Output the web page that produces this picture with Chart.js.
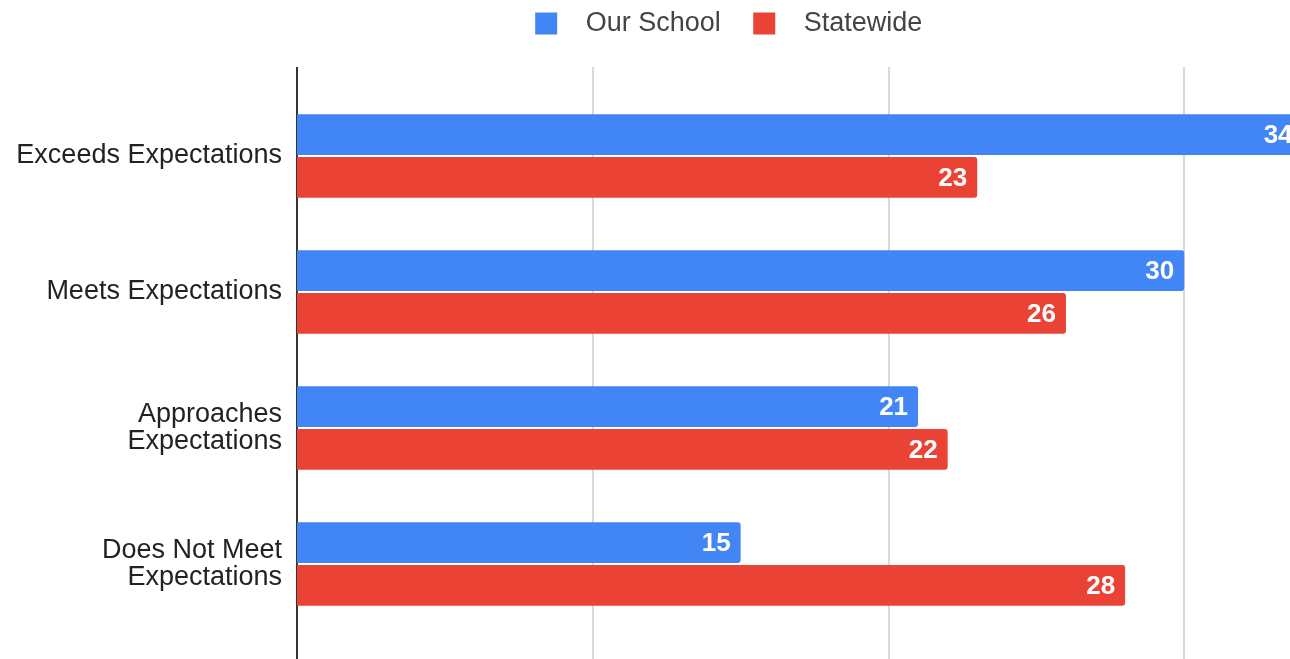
<!DOCTYPE html>
<html>
<head>
<meta charset="utf-8">
<script src="https://cdn.jsdelivr.net/npm/chart.js@4"></script>
<style>
  html, body { margin: 0; padding: 0; background: #fff; overflow: hidden; }
  #wrap { width: 1290px; height: 659px; overflow: hidden; }
  #grafico { display: block; }
</style>
</head>
<body>
<div id="wrap"><canvas id="grafico" width="1480" height="659"></canvas></div>
<script>
// Datos del gráfico
const categorias = ['Exceeds Expectations', 'Meets Expectations', ['Approaches', 'Expectations'], ['Does Not Meet', 'Expectations']];
const series = ['Our School', 'Statewide'];
const nuestraEscuela = [34, 30, 21, 15];
const estatal = [23, 26, 22, 28];
const ejeX = [0, 10, 20, 30, 40];

const fuente = "'Liberation Sans', Arial, sans-serif";

// Espacio extra bajo la leyenda
const espacioLeyenda = {
    id: 'espacioLeyenda',
    beforeInit(chart) {
        const fitOriginal = chart.legend.fit;
        chart.legend.fit = function () {
            fitOriginal.bind(chart.legend)();
            this.height += 41;
        };
    }
};

// Rejilla vertical que sobresale un poco del área (estilo Google Charts)
const rejilla = {
    id: 'rejilla',
    beforeDatasetsDraw(chart) {
        const { ctx, chartArea, scales } = chart;
        const arriba = chartArea.top - 21, abajo = chartArea.bottom + 30;
        ctx.save();
        ejeX.forEach(function (v) {
            const x = Math.round(scales.x.getPixelForValue(v));
            ctx.beginPath();
            ctx.lineWidth = v === 0 ? 2 : 1.5;
            ctx.strokeStyle = v === 0 ? '#333333' : '#cccccc';
            ctx.moveTo(x, arriba);
            ctx.lineTo(x, abajo);
            ctx.stroke();
        });
        ctx.restore();
    }
};

// Etiquetas de valor dentro de cada barra
const etiquetas = {
    id: 'etiquetas',
    afterDatasetsDraw(chart) {
        const { ctx } = chart;
        ctx.save();
        ctx.font = "bold 26px " + fuente;
        ctx.fillStyle = '#ffffff';
        ctx.textAlign = 'right';
        ctx.textBaseline = 'middle';
        chart.data.datasets.forEach(function (ds, i) {
            chart.getDatasetMeta(i).data.forEach(function (barra, j) {
                ctx.fillText(ds.data[j], barra.x - 10, barra.y + 1);
            });
        });
        ctx.restore();
    }
};

new Chart(document.getElementById('grafico').getContext('2d'), {
    type: 'bar',
    data: {
        labels: categorias,
        datasets: [
            { label: series[0], data: nuestraEscuela, backgroundColor: '#4285F4' },
            { label: series[1], data: estatal, backgroundColor: '#EA4335' }
        ]
    },
    options: {
        indexAxis: 'y',
        responsive: false,
        animation: false,
        events: [],
        categoryPercentage: 0.63,
        barPercentage: 0.95,
        borderRadius: 3,
        borderSkipped: 'start',
        layout: { padding: { top: 0, bottom: 19, left: 0, right: 0 } },
        scales: {
            x: {
                min: ejeX[0],
                max: ejeX[ejeX.length - 1],
                ticks: { display: false, stepSize: 10 },
                grid: { display: false },
                border: { display: false }
            },
            y: {
                afterFit(escala) { escala.width = 297; },
                grid: { display: false },
                border: { display: false },
                ticks: {
                    color: '#222222',
                    padding: 7,
                    font: { family: fuente, size: 27, lineHeight: 1.0 }
                }
            }
        },
        plugins: {
            legend: {
                position: 'top',
                labels: {
                    color: '#444444',
                    boxWidth: 22,
                    boxHeight: 22,
                    padding: 10,
                    font: { family: fuente, size: 27 },
                    generateLabels(chart) {
                        return Chart.defaults.plugins.legend.labels.generateLabels(chart).map(function (l) {
                            l.text = '  ' + l.text + '   ';
                            return l;
                        });
                    }
                }
            },
            tooltip: { enabled: false }
        }
    },
    plugins: [espacioLeyenda, rejilla, etiquetas]
});
</script>
</body>
</html>
